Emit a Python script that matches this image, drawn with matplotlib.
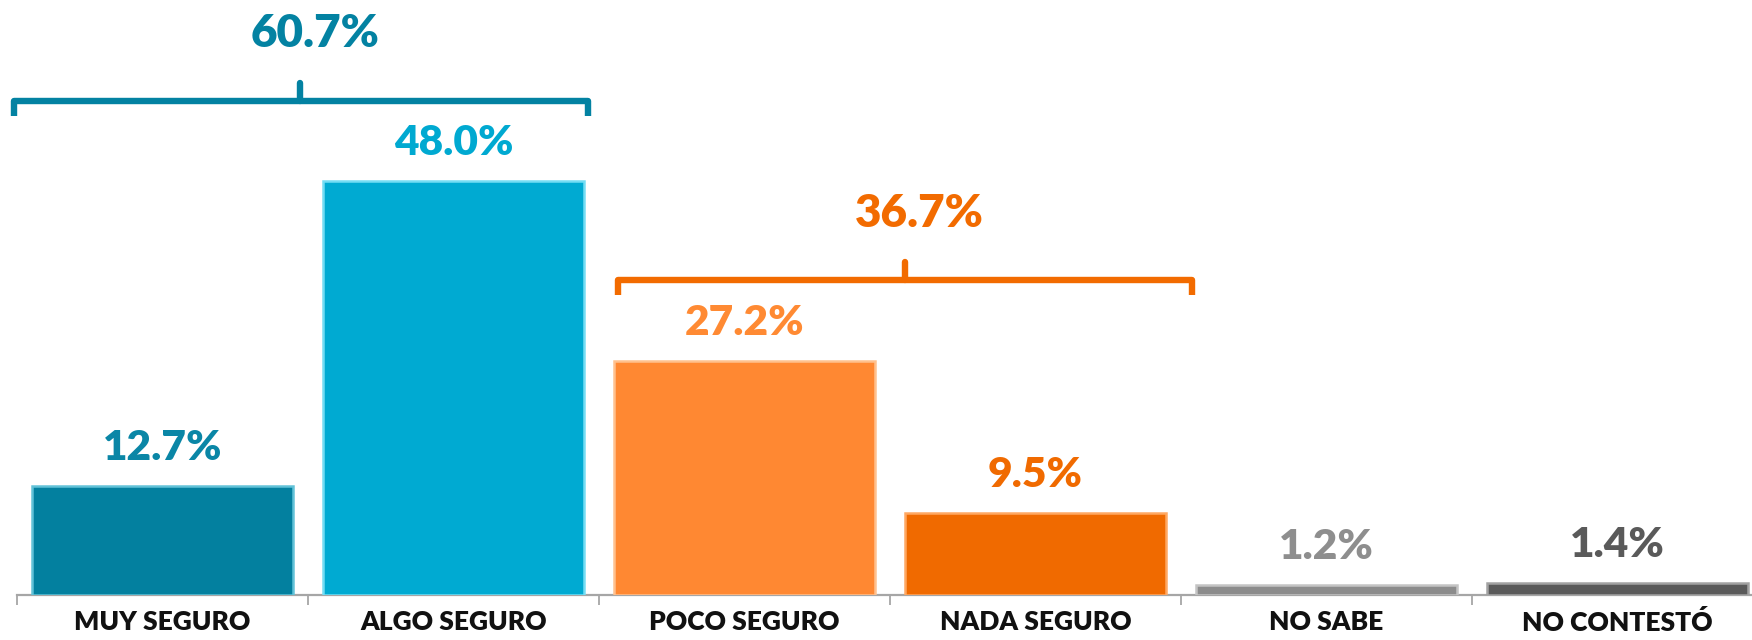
import matplotlib
matplotlib.use("Agg")
import matplotlib.pyplot as plt

# ---- data ----
categories = ["MUY SEGURO", "ALGO SEGURO", "POCO SEGURO", "NADA SEGURO", "NO SABE", "NO CONTESTÓ"]
values = [12.7, 48.0, 27.2, 9.5, 1.2, 1.4]
value_labels = ["12.7%", "48.0%", "27.2%", "9.5%", "1.2%", "1.4%"]
group_members = [[0, 1], [2, 3]]
group_totals = ["60.7%", "36.7%"]

# ---- style ----
bar_colors = ["#03809F", "#00AAD2", "#FF8832", "#F06A00", "#8C8C8C", "#5A5A5A"]
edge_colors = ["#62C2D8", "#74DDF4", "#FFC18E", "#FFA862", "#C4C4C4", "#A2A2A2"]
label_colors = ["#0A86A6", "#00A9D1", "#FF8A33", "#F06A00", "#8E8E8E", "#5A5A5A"]
group_colors = ["#0382A2", "#F26B00"]
bracket_pad = [(-0.51, 0.462), (-0.435, 0.538)]   # left/right offsets from first/last member
bracket_mid = [0.473, 2.552]

W, H = 1752, 640
fig = plt.figure(figsize=(W / 100, H / 100), dpi=100)
px_per_unit = 8.62
ax = fig.add_axes([17 / W, 45 / H, 1746 / W, 595 / H])
ax.set_xlim(-0.5, 5.5)
ax.set_ylim(0, 595 / px_per_unit)

x = list(range(len(categories)))
ax.bar(x, values, width=0.895, color=bar_colors, edgecolor=edge_colors, linewidth=1.8, zorder=3)

font = "Lato"
for i, v in enumerate(values):
    ax.text(i, v + 4.4, value_labels[i], ha="center", va="center", fontsize=30.5,
            fontweight="heavy", color=label_colors[i], family=font, zorder=4)

# brackets
for g, members in enumerate(group_members):
    top = max(values[m] for m in members)
    y_h = top + 9.35
    y_end = y_h - 1.75
    y_tip = y_h + 2.1
    xl = members[0] + bracket_pad[g][0]
    xr = members[-1] + bracket_pad[g][1]
    xm = bracket_mid[g]
    c = group_colors[g]
    ax.plot([xl, xl, xr, xr], [y_end, y_h, y_h, y_end], color=c, lw=4.6,
            solid_joinstyle="round", solid_capstyle="butt", zorder=4, clip_on=False)
    ax.plot([xm, xm], [y_h, y_tip], color=c, lw=4.6, solid_capstyle="round", zorder=4, clip_on=False)
    ax.text(xm + 0.05, top + 17.1, group_totals[g], ha="center", va="center", fontsize=33,
            fontweight="heavy", color=c, family=font, zorder=4)

# axes styling
for s in ["top", "right", "left"]:
    ax.spines[s].set_visible(False)
ax.spines["bottom"].set_color("#A6A6A6")
ax.spines["bottom"].set_linewidth(1.6)
ax.set_yticks([])
ax.set_xticks(x)
ax.set_xticklabels(categories, fontsize=19, fontweight="heavy", family=font, color="#111111")
ax.tick_params(axis="x", which="major", length=0, pad=11)
ax.set_xticks([i - 0.5 for i in range(len(categories) + 1)], minor=True)
ax.tick_params(axis="x", which="minor", length=7, width=1.3, color="#A6A6A6", direction="out")

fig.savefig("out.png", dpi=100, facecolor="white")
